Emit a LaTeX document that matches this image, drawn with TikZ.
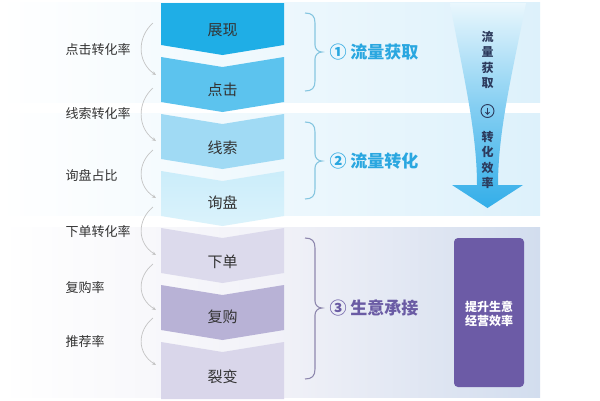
\documentclass[tikz,border=0pt]{standalone}
\usepackage{fontspec}
\setmainfont{Noto Sans CJK SC}
\usetikzlibrary{arrows.meta}
\definecolor{cA}{HTML}{1FAEE6}
\definecolor{cB}{HTML}{5CC3EE}
\definecolor{cC}{HTML}{A0DAF4}
\definecolor{cD}{HTML}{CBEDFA}
\definecolor{cE}{HTML}{DCDAEC}
\definecolor{cF}{HTML}{B8B2D6}
\definecolor{cG}{HTML}{D9D6EA}
\definecolor{bandblue}{HTML}{DDF1FB}
\definecolor{bandpurL}{HTML}{F2F2F8}
\definecolor{bandpurR}{HTML}{D2DDEE}
\definecolor{braceblue}{HTML}{86C6E0}
\definecolor{bracepur}{HTML}{8E88AE}
\definecolor{titleblue}{HTML}{2AA7E0}
\definecolor{titlepur}{HTML}{6A5BA4}
\definecolor{navy}{HTML}{2C3A5C}
\definecolor{boxpur}{HTML}{6C5BA6}
\definecolor{funtop}{HTML}{EAF7FD}
\definecolor{funbot}{HTML}{33AEE9}
\definecolor{txt}{HTML}{333333}
\definecolor{arrowgray}{HTML}{C4C4C4}
\tikzset{
  stagetext/.style={text=txt, font=\fontsize{15}{18}\selectfont},
  ratelabel/.style={anchor=west, text=txt, font=\fontsize{13}{16}\selectfont},
  ratearrow/.style={draw=arrowgray, line width=0.7pt, -{Stealth[length=4pt,width=3.5pt]}},
  bracestyle/.style={line width=1.1pt},
  headtitle/.style={anchor=west, font=\bfseries\fontsize{17}{20}\selectfont},
  funneltext/.style={align=center, text=navy, font=\bfseries\fontsize{12}{15.3}\selectfont},
}
\begin{document}
\begin{tikzpicture}[x=1pt,y=-1pt]
\useasboundingbox (0,0) rectangle (600,400);
\fill[white] (0,0) rectangle (600,400);
% bands
\shade[left color=white, right color=bandblue] (0,2) rectangle (540,102);
\shade[left color=white, right color=bandblue] (0,113) rectangle (540,215);
\shade[left color=white, right color=bandpurR, middle color=bandpurL] (0,227) rectangle (540,397);
% chevrons
\fill[cA] (161,3) -- (284,3) -- (284,45) -- (222.5,55) -- (161,45) -- cycle;
\fill[cB] (161,57) -- (222.5,67) -- (284,57) -- (284,102) -- (222.5,112) -- (161,102) -- cycle;
\fill[cC] (161,114) -- (222.5,124) -- (284,114) -- (284,159) -- (222.5,169) -- (161,159) -- cycle;
\shade[top color=cD, bottom color=cD!70!white] (161,171) -- (222.5,181) -- (284,171) -- (284,216) -- (222.5,226) -- (161,216) -- cycle;
\fill[cE] (161,228) -- (222.5,238) -- (284,228) -- (284,273) -- (222.5,283) -- (161,273) -- cycle;
\fill[cF] (161,285) -- (222.5,295) -- (284,285) -- (284,330) -- (222.5,340) -- (161,330) -- cycle;
\fill[cG] (161,342) -- (222.5,352) -- (284,342) -- (284,399) -- (161,399) -- cycle;
% stage texts
\node[stagetext] (s1) at (222.5,30) {展现};
\node[stagetext] (s2) at (222.5,90) {点击};
\node[stagetext] (s3) at (222.5,148) {线索};
\node[stagetext] (s4) at (222.5,203) {询盘};
\node[stagetext] (s5) at (222.5,262) {下单};
\node[stagetext] (s6) at (222.5,317) {复购};
\node[stagetext] (s7) at (222.5,377) {裂变};
% rate labels
\node[ratelabel] (r1) at (62,50) {点击转化率};
\node[ratelabel] (r2) at (62,114) {线索转化率};
\node[ratelabel] (r3) at (62,175) {询盘占比};
\node[ratelabel] (r4) at (62,232) {下单转化率};
\node[ratelabel] (r5) at (62,288) {复购率};
\node[ratelabel] (r6) at (62,342) {推荐率};
% rate arrows
\coordinate (a1s) at (153,23);  \coordinate (a1e) at (156,75);
\coordinate (a2s) at (153,88);  \coordinate (a2e) at (156,141);
\coordinate (a3s) at (153,150); \coordinate (a3e) at (156,198);
\coordinate (a4s) at (153,207); \coordinate (a4e) at (156,255);
\coordinate (a5s) at (153,264); \coordinate (a5e) at (156,310);
\coordinate (a6s) at (153,318); \coordinate (a6e) at (156,365);
\draw[ratearrow] (a1s) .. controls (137,37) and (137,62) .. (a1e);
\draw[ratearrow] (a2s) .. controls (137,102) and (137,128) .. (a2e);
\draw[ratearrow] (a3s) .. controls (137,163) and (137,186) .. (a3e);
\draw[ratearrow] (a4s) .. controls (137,220) and (137,243) .. (a4e);
\draw[ratearrow] (a5s) .. controls (137,277) and (137,298) .. (a5e);
\draw[ratearrow] (a6s) .. controls (137,331) and (137,353) .. (a6e);
% braces
\draw[bracestyle, braceblue] (305,13) .. controls (312,13) and (315,16) .. (315,23) -- (315,45) .. controls (315,49) and (318,52) .. (322,52) .. controls (318,52) and (315,55) .. (315,59) -- (315,81) .. controls (315,88) and (312,91) .. (305,91);
\draw[bracestyle, braceblue] (305,122) .. controls (312,122) and (315,125) .. (315,132) -- (315,154) .. controls (315,158) and (318,161) .. (322,161) .. controls (318,161) and (315,164) .. (315,168) -- (315,189) .. controls (315,196) and (312,199) .. (305,199);
\draw[bracestyle, bracepur] (305,238) .. controls (312,238) and (315,241) .. (315,248) -- (315,301) .. controls (315,305) and (318,308) .. (322,308) .. controls (318,308) and (315,311) .. (315,315) -- (315,369) .. controls (315,376) and (312,379) .. (305,379);
% headings
\node[headtitle, text=titleblue] (h1) at (326,52) {① 流量获取};
\node[headtitle, text=titleblue] (h2) at (326,161) {② 流量转化};
\node[headtitle, text=titlepur] (h3) at (326,308) {③ 生意承接};
% funnel arrow
\shade[top color=funtop, bottom color=funbot, middle color=funtop!45!funbot]
  (450,3) .. controls (462,70) and (477,130) .. (477,185) -- (452,185) -- (487.5,208) -- (523,185) -- (498,185) .. controls (498,130) and (513,70) .. (526,3) -- cycle;
\node[funneltext] (f1) at (487.5,60) {流\\量\\获\\取};
\node[circle, draw=navy, line width=0.9pt, minimum size=13pt, inner sep=0pt] (fc) at (487.5,111) {};
\draw[navy, line width=0.9pt, -{Straight Barb[length=2.2pt,width=4pt]}] ([yshift=3.5pt]fc.center) -- ([yshift=-4pt]fc.center);
\node[funneltext] (f2) at (487.5,160) {转\\化\\效\\率};
% purple box
\node[fill=boxpur, rounded corners=4pt, minimum width=70pt, minimum height=149pt, inner sep=0pt] (pb) at (489,312.5) {};
\node[align=center, text=white, font=\bfseries\fontsize{12}{14}\selectfont] (pt) at (489,313.5) {提升生意\\经营效率};
\end{tikzpicture}
\end{document}
